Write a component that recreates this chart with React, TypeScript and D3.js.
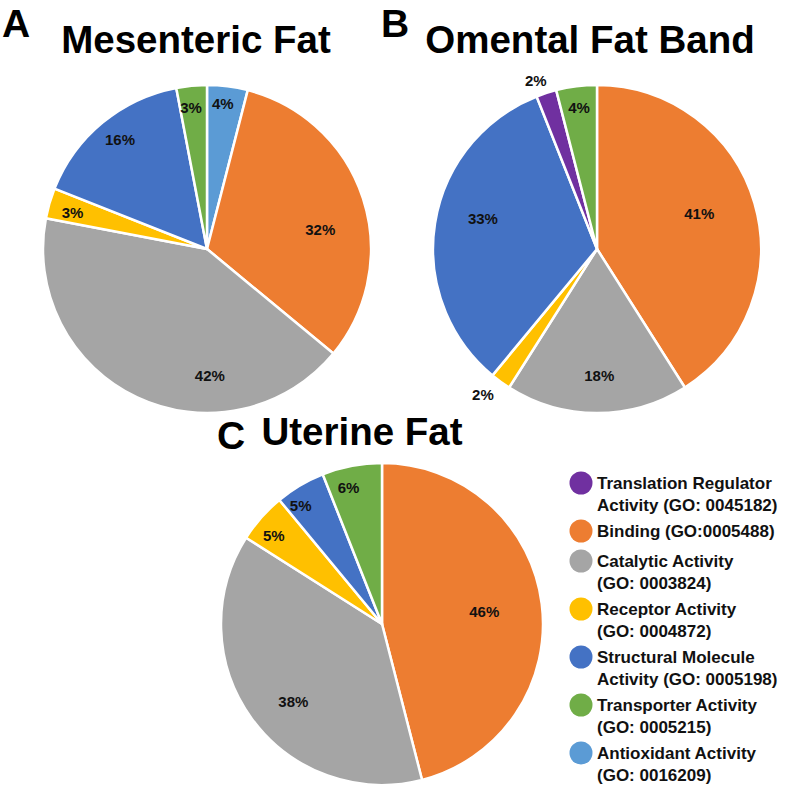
import React from 'react';
import * as d3 from 'd3';

// legend categories (legend order)
const categories = [
    'Translation Regulator Activity (GO: 0045182)',
    'Binding (GO:0005488)',
    'Catalytic Activity (GO: 0003824)',
    'Receptor Activity (GO: 0004872)',
    'Structural Molecule Activity (GO: 0005198)',
    'Transporter Activity (GO: 0005215)',
    'Antioxidant Activity (GO: 0016209)',
];
const categoryKeys = ['translation', 'binding', 'catalytic', 'receptor', 'structural', 'transporter', 'antioxidant'];
const legendLines = [
    ['Translation Regulator', 'Activity (GO: 0045182)'],
    ['Binding (GO:0005488)'],
    ['Catalytic Activity', '(GO: 0003824)'],
    ['Receptor Activity', '(GO: 0004872)'],
    ['Structural Molecule', 'Activity (GO: 0005198)'],
    ['Transporter Activity', '(GO: 0005215)'],
    ['Antioxidant Activity', '(GO: 0016209)'],
];

// slices, clockwise from 12 o'clock
const mesentericKeys = ['antioxidant', 'binding', 'catalytic', 'receptor', 'structural', 'transporter'];
const mesentericValues = [4, 32, 42, 3, 16, 3];

const omentalKeys = ['binding', 'catalytic', 'receptor', 'structural', 'translation', 'transporter'];
const omentalValues = [41, 18, 2, 33, 2, 4];

const uterineKeys = ['binding', 'catalytic', 'receptor', 'structural', 'transporter'];
const uterineValues = [46, 38, 5, 5, 6];

const colors = {
    translation: '#7030A0',
    binding: '#ED7D31',
    catalytic: '#A5A5A5',
    receptor: '#FFC000',
    structural: '#4472C4',
    transporter: '#70AD47',
    antioxidant: '#5B9BD5',
};

const FONT = "Arial, 'Liberation Sans', sans-serif";

// label placement: [radius factor, angle nudge in degrees]
const mesentericLabelPos = [[0.89, -1], [0.70, 8.5], [0.77, -26.5], [0.85, -1], [0.85, 1], [0.87, -1]];
const omentalLabelPos = [[0.66, -3], [0.77, -1], [1.13, 2], [0.72, 6], [1.09, -2], [0.87, 0]];
const uterineLabelPos = [[0.64, 0], [0.73, -5], [0.87, -2], [0.89, -4], [0.87, -3]];

function Pie({ cx, cy, r, keys, values, labelPos }) {
    const pie = d3.pie().sort(null).value((d) => d.value).startAngle(0).endAngle(2 * Math.PI);
    const arcs = pie(keys.map((k, i) => ({ key: k, value: values[i] })));
    const arc = d3.arc().innerRadius(0).outerRadius(r);
    return (
        <g transform={`translate(${cx},${cy})`}>
            {arcs.map((a) => (
                <path key={a.data.key} d={arc(a)} fill={colors[a.data.key]} stroke="#fff" strokeWidth={2.5} strokeLinejoin="round" />
            ))}
            {arcs.map((a, i) => {
                const [rf, nudge] = labelPos[i];
                const ang = (a.startAngle + a.endAngle) / 2 + (nudge * Math.PI) / 180;
                const x = Math.sin(ang) * r * rf;
                const y = -Math.cos(ang) * r * rf;
                return (
                    <text key={'l' + i} x={x} y={y} dy="0.36em" textAnchor="middle" fontFamily={FONT}
                        fontWeight="bold" fontSize={15} fill="#111">
                        {a.data.value + '%'}
                    </text>
                );
            })}
        </g>
    );
}

export default function App() {
    const width = 800;
    const height = 788;

    // legend rows: two-line entries take more room than one-line entries
    let acc = 483;
    const legendY = categoryKeys.map((k, i) => {
        const y = acc;
        acc += legendLines[i].length === 2 ? 48 : 30;
        return y;
    });

    return (
        <svg width={width} height={height} style={{ position: 'absolute', left: 0, top: 0, background: '#fff' }}>
            {/* panel letters and titles */}
            <g fontFamily={FONT} fontWeight="bold" fill="#000">
                <text x={2} y={37} fontSize={39}>A</text>
                <text x={196} y={53} fontSize={38.5} textAnchor="middle">Mesenteric Fat</text>
                <text x={381} y={37} fontSize={39}>B</text>
                <text x={590} y={53} fontSize={38.5} textAnchor="middle">Omental Fat Band</text>
                <text x={217} y={449} fontSize={39}>C</text>
                <text x={362} y={445} fontSize={38.5} textAnchor="middle">Uterine Fat</text>
            </g>

            <Pie cx={207} cy={249} r={164} keys={mesentericKeys} values={mesentericValues} labelPos={mesentericLabelPos} />
            <Pie cx={597} cy={249} r={164} keys={omentalKeys} values={omentalValues} labelPos={omentalLabelPos} />
            <Pie cx={382} cy={624} r={161} keys={uterineKeys} values={uterineValues} labelPos={uterineLabelPos} />

            {/* legend */}
            <g fontFamily={FONT} fontWeight="bold" fontSize={17} fill="#111">
                {categoryKeys.map((k, i) => {
                    const y = legendY[i];
                    return (
                        <g key={k}>
                            <title>{categories[i]}</title>
                            <circle cx={581} cy={y} r={11.5} fill={colors[k]} />
                            {legendLines[i].map((line, j) => (
                                <text key={j} x={597} y={y + 6 + j * 22}>{line}</text>
                            ))}
                        </g>
                    );
                })}
            </g>
        </svg>
    );
}
